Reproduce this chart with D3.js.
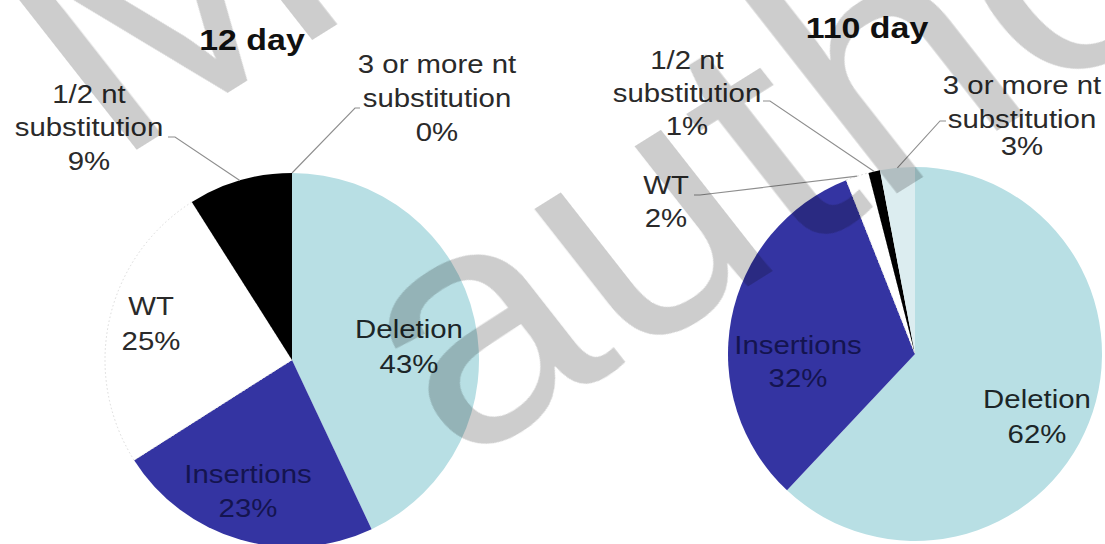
<!DOCTYPE html>
<html>
<head>
<meta charset="utf-8">
<script src="https://cdn.jsdelivr.net/npm/d3@7"></script>
<style>
  html, body { margin: 0; padding: 0; background: #fff; }
  svg { display: block; }
  text { font-family: "Liberation Sans", Arial, sans-serif; }
</style>
</head>
<body>
<svg id="chart" width="1105" height="544"></svg>
<script>
// Mutation classes, in clockwise order from 12 o'clock
const categories = ["Deletion", "Insertions", "WT", "1/2 nt substitution", "3 or more nt substitution"];
// Label lines shown for each class (percentage is appended below)
const labelLines = [["Deletion"], ["Insertions"], ["WT"], ["1/2 nt", "substitution"], ["3 or more nt", "substitution"]];
// Percent of reads per class
const day12Values = [43, 23, 25, 9, 0];
const day110Values = [62, 32, 2, 1, 3];
const panelTitles = ["12 day", "110 day"];

const sliceColors = ["#b8dfe4", "#3434a2", "#ffffff", "#000000", "#dcedf0"];
const labelColors = ["#1c2628", "#141450", "#2a2a2a", "#2a2a2a", "#2a2a2a"];

// Panel geometry and label placement (offsets from the pie centre)
const panels = [
  {
    values: day12Values, title: panelTitles[0],
    cx: 292, cy: 360, r: 187, titleAt: [252, 50],
    labels: [[117, -22], [-44, 123], [-141, -45], [-203, -257], [145, -287]],
    gaps: [[35], [34], [35], [33, 34], [34, 34]],
    leaders: { 3: [[-124, -223], [-117, -223]], 4: [[68, -252], [63, -252]] }
  },
  {
    values: day110Values, title: panelTitles[1],
    cx: 915, cy: 354, r: 187, titleAt: [867, 38],
    labels: [[122, 54], [-117, 0], [-249, -160], [-228, -285], [107, -260]],
    gaps: [[35], [33], [33], [33, 33], [34, 27]],
    leaders: { 2: [[-221, -159], [-215, -159]], 3: [[-152, -253], [-145, -253]], 4: [[31, -233], [25, -233]] }
  }
];

const svg = d3.select("#chart");
svg.append("rect").attr("width", 1105).attr("height", 544).attr("fill", "#fff");

const pie = d3.pie().sort(null).startAngle(0).endAngle(2 * Math.PI).value(d => d.v);
const stretch = 1.13;

panels.forEach(p => {
  const g = svg.append("g").attr("transform", `translate(${p.cx},${p.cy})`);
  const pieData = pie(p.values.map((v, i) => ({ v, i })));
  const arc = d3.arc().innerRadius(0).outerRadius(p.r);
  const rim = d3.arc().innerRadius(p.r).outerRadius(p.r);

  g.selectAll("path.slice")
    .data(pieData)
    .join("path")
    .attr("class", "slice")
    .attr("d", arc)
    .attr("fill", d => sliceColors[d.data.i])
    .attr("stroke", d => d.data.i === 2 ? "#dadada" : "none")
    .attr("stroke-width", 1)
    .attr("stroke-dasharray", d => d.data.i === 2 ? "1.5,2.5" : null);

  // leader lines for the labels set outside the pie
  pieData.forEach(d => {
    const ld = p.leaders[d.data.i];
    if (!ld) return;
    const end = rim.centroid(d);
    g.append("path")
      .attr("d", d3.line()([ld[0], ld[1], end]))
      .attr("fill", "none")
      .attr("stroke", "#8e8e8e")
      .attr("stroke-width", 1.1);
  });

  // slice labels
  pieData.forEach(d => {
    const i = d.data.i;
    const lines = labelLines[i].concat([d3.format(".0f")(d.data.v) + "%"]);
    const [lx, ly] = p.labels[i];
    let y = ly;
    lines.forEach((t, k) => {
      if (k > 0) y += p.gaps[i][k - 1];
      g.append("text")
        .attr("transform", `translate(${lx},${y}) scale(${stretch},1)`)
        .attr("text-anchor", "middle")
        .attr("font-size", 26)
        .attr("fill", labelColors[i])
        .text(t);
    });
  });

  svg.append("text")
    .attr("transform", `translate(${p.titleAt[0]},${p.titleAt[1]}) scale(${stretch},1)`)
    .attr("text-anchor", "middle")
    .attr("font-size", 30)
    .attr("font-weight", "bold")
    .attr("fill", "#111")
    .text(p.title);
});

// large diagonal manuscript watermark laid over the figure
const wm = svg.append("g")
  .style("mix-blend-mode", "multiply")
  .attr("fill", "#cdcdcd")
  .attr("font-size", 327);
wm.append("text").attr("transform", "translate(112,165) scale(1.12,1) rotate(-35)").text("M");
wm.append("text").attr("transform", "translate(459,467) scale(1.12,1) rotate(-35)").text("author");
</script>
</body>
</html>
